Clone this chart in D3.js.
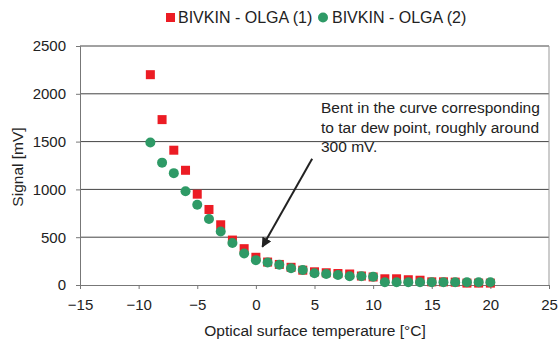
<!DOCTYPE html>
<html>
<head>
<meta charset="utf-8">
<script src="https://cdn.jsdelivr.net/npm/d3@7"></script>
<style>
  body { margin: 0; background: #fff; }
  svg { display: block; font-family: "Liberation Sans", Arial, sans-serif; }
  text { fill: #222; }
</style>
</head>
<body>
<svg id="chart" width="559" height="340"></svg>
<script>
// temperatures (°C) shared by both series
const temps = d3.range(-9, 21);

// series values (mV)
const olga1 = [2200, 1730, 1410, 1200, 950, 790, 630, 470, 380, 290,
  240, 215, 185, 155, 138, 128, 120, 115, 94, 84,
  65, 65, 55, 50, 33, 33, 30, 20, 20, 20];
const olga2 = [1490, 1280, 1170, 980, 840, 690, 560, 440, 330, 260,
  235, 212, 175, 157, 122, 115, 105, 91, 91, 87,
  28, 28, 28, 28, 28, 28, 28, 28, 28, 28];

const seriesNames = ["BIVKIN - OLGA (1)", "BIVKIN - OLGA (2)"];
const xTicks = [-15, -10, -5, 0, 5, 10, 15, 20, 25];
const yTicks = [0, 500, 1000, 1500, 2000, 2500];
const noteLines = ["Bent in the curve corresponding", "to tar dew point, roughly around", "300 mV."];

const red = "#ec1c24", green = "#2e9a66";

const svg = d3.select("#chart");
const x = d3.scaleLinear().domain([-15, 25]).range([80, 549]);
const y = d3.scaleLinear().domain([0, 2500]).range([285, 46]);

// gridlines
svg.append("g")
  .selectAll("line")
  .data(yTicks.filter(d => d > 0))
  .join("line")
  .attr("x1", x(-15)).attr("x2", x(25))
  .attr("y1", d => y(d)).attr("y2", d => y(d))
  .attr("stroke", "#444").attr("stroke-width", 1);

// right border
svg.append("line")
  .attr("x1", x(25)).attr("x2", x(25))
  .attr("y1", y(2500)).attr("y2", y(0))
  .attr("stroke", "#999");

const xAxis = svg.append("g")
  .attr("transform", `translate(0,${y(0)})`)
  .call(d3.axisBottom(x).tickValues(xTicks).tickSize(4).tickPadding(10).tickFormat(d3.format("d")));
const yAxis = svg.append("g")
  .attr("transform", `translate(${x(-15)},0)`)
  .call(d3.axisLeft(y).tickValues(yTicks).tickSize(4).tickPadding(10).tickFormat(d3.format("d")));

[xAxis, yAxis].forEach(g => {
  g.select(".domain").attr("stroke", "#777");
  g.selectAll(".tick line").attr("stroke", "#777");
  g.selectAll(".tick text")
    .attr("font-size", 15)
    .attr("font-family", "Liberation Sans, Arial, sans-serif")
    .attr("fill", "#222");
});

// series 1 - squares
const sq = 9;
svg.append("g")
  .selectAll("rect")
  .data(temps.map((t, i) => [t, olga1[i]]))
  .join("rect")
  .attr("x", d => x(d[0]) - sq / 2)
  .attr("y", d => y(d[1]) - sq / 2)
  .attr("width", sq).attr("height", sq)
  .attr("fill", red);

// series 2 - circles
svg.append("g")
  .selectAll("circle")
  .data(temps.map((t, i) => [t, olga2[i]]))
  .join("circle")
  .attr("cx", d => x(d[0]))
  .attr("cy", d => y(d[1]))
  .attr("r", 5)
  .attr("fill", green);

// annotation
const note = svg.append("text")
  .attr("x", 321).attr("y", 113)
  .attr("font-size", 15.5);
note.selectAll("tspan")
  .data(noteLines)
  .join("tspan")
  .attr("x", 321)
  .attr("dy", (d, i) => i ? 19.5 : 0)
  .text(d => d);

svg.append("defs").append("marker")
  .attr("id", "arrow")
  .attr("viewBox", "0 0 10 10")
  .attr("refX", 9).attr("refY", 5)
  .attr("markerWidth", 5).attr("markerHeight", 5)
  .attr("orient", "auto")
  .append("path")
  .attr("d", "M0,0L10,5L0,10z")
  .attr("fill", "#222");

svg.append("line")
  .attr("x1", x(4.8)).attr("y1", y(1320))
  .attr("x2", x(0.55)).attr("y2", y(400))
  .attr("stroke", "#222").attr("stroke-width", 2)
  .attr("marker-end", "url(#arrow)");

// axis titles
svg.append("text")
  .attr("x", 315).attr("y", 336)
  .attr("text-anchor", "middle")
  .attr("font-size", 15.5)
  .text("Optical surface temperature [°C]");
svg.append("text")
  .attr("transform", "translate(23,167) rotate(-90)")
  .attr("text-anchor", "middle")
  .attr("font-size", 15.5)
  .text("Signal [mV]");

// legend
const legend = svg.append("g");
legend.append("rect")
  .attr("x", 166).attr("y", 13).attr("width", 9).attr("height", 9)
  .attr("fill", red);
legend.append("text").attr("x", 178).attr("y", 23).attr("font-size", 16).text(seriesNames[0]);
legend.append("circle")
  .attr("cx", 323).attr("cy", 17.5).attr("r", 5)
  .attr("fill", green);
legend.append("text").attr("x", 332).attr("y", 23).attr("font-size", 16).text(seriesNames[1]);
</script>
</body>
</html>
